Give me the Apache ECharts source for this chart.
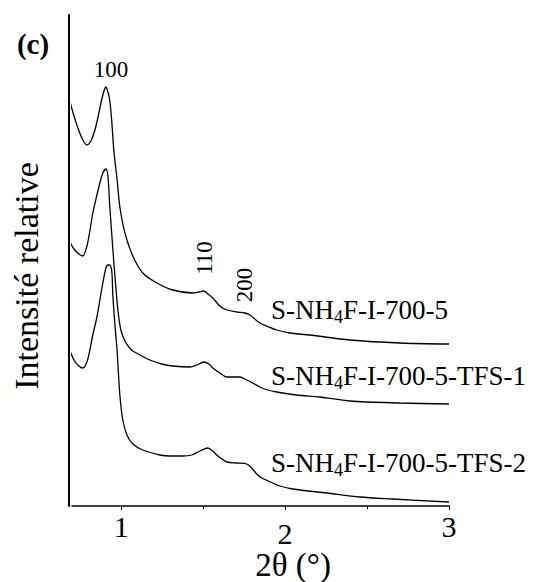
<!DOCTYPE html>
<html>
<head>
<meta charset="utf-8">
<script src="https://cdn.jsdelivr.net/npm/echarts@6/dist/echarts.min.js"></script>
<style>html,body{margin:0;padding:0;background:#fff;}#c{width:537px;height:582px;}</style>
</head>
<body>
<div id="c"></div>
<script>
// 2θ (°) positions and relative intensities
const xA = [0.681,0.705,0.736,0.766,0.791,0.815,0.840,0.864,0.882,0.895,0.907,0.919,0.930,0.943,0.955,0.974,0.992,1.023,1.071,1.132,1.218,1.315,1.437,1.474,1.504,1.529,1.559,1.602,1.645,1.706,1.754,1.785,1.815,1.846,1.888,1.949,2.029,2.150,2.395,2.699,3.0];
const yA = [409,394,378,366,361,365,376,393,407,415,419,414,406,384,356,328,299,273,250,233,223,216,213,214,215,212,208,200,196,194,193,191,187,183,180,176,173,171,166,163,162];

const xB = [0.681,0.712,0.742,0.766,0.791,0.809,0.827,0.852,0.870,0.888,0.907,0.919,0.930,0.943,0.955,0.968,0.980,0.998,1.023,1.047,1.071,1.127,1.175,1.248,1.315,1.419,1.462,1.504,1.535,1.559,1.602,1.645,1.724,1.766,1.803,1.846,1.894,1.949,2.071,2.211,2.395,2.699,3.0];
const yB = [266,257,252,250,260,275,293,311,323,333,337,330,301,271,244,218,196,176,165,159,155,150,146,142,140,139,141,144,142,138,133,129,129,126,123,119,116,114,111,109,105,103,102];

const xC = [0.681,0.712,0.742,0.766,0.791,0.809,0.827,0.852,0.870,0.888,0.907,0.919,0.930,0.943,0.949,0.962,0.974,0.992,1.010,1.035,1.071,1.132,1.236,1.297,1.376,1.431,1.480,1.529,1.559,1.583,1.614,1.645,1.706,1.766,1.797,1.827,1.858,1.925,1.968,2.047,2.254,2.456,2.657,3.0];
const yC = [158,146,140,138,144,156,171,189,206,223,238,241,241,234,211,181,158,111,86,71,62,56,51,50,50,51,55,58,55,51,47,44,43,42,38,32,28,23,20,17,13,9,7,4];

const seriesNames = ['S-NH4F-I-700-5','S-NH4F-I-700-5-TFS-1','S-NH4F-I-700-5-TFS-2'];
const xTicks = [1,2,3];
const xMinorTicks = [1.5,2.5];
const peakLabels = ['100','110','200'];

const FONT = 'Liberation Serif';
const pair = (xs, ys) => xs.map((x,i)=>[x, ys[i]]);
const allData = [pair(xA,yA), pair(xB,yB), pair(xC,yC)];

const chart = echarts.init(document.getElementById('c'), null, {renderer:'svg'});

function labelRich(name){
  const parts = name.split('NH4');
  return '{n|' + parts[0] + 'NH}{s|4}{n|' + parts[1] + '}';
}
const richStyle = {
  n:{fontSize:27, fontFamily:FONT, fill:'#000'},
  s:{fontSize:18, fontFamily:FONT, fill:'#000', padding:[13,0,0,0]}
};
function txt(x, y, text, size, opts){
  opts = opts || {};
  return {type:'text', x:x, y:y, rotation:opts.rot || 0,
    style:{text:text, fontFamily:FONT, fontSize:size, fontWeight:opts.bold?'bold':'normal', fill:'#000', align:'center', verticalAlign:'middle'}};
}

chart.setOption({
  animation:false,
  backgroundColor:'#fff',
  textStyle:{fontFamily:FONT},
  grid:{left:72, right:88, top:15, bottom:76},
  xAxis:[{
    type:'value', min:0.7, max:3,
    axisLine:{show:true, lineStyle:{color:'#000', width:1.5}},
    axisTick:{show:true, customValues:xTicks, length:4, lineStyle:{color:'#000', width:1}},
    axisLabel:{show:true, customValues:xTicks, margin:5, color:'#000', fontFamily:FONT, fontSize:30,
      formatter:function(v){ return v===2 ? '{d|2}' : '{a|'+v+'}'; },
      rich:{a:{fontSize:30,fontFamily:FONT,color:'#000'}, d:{fontSize:30,fontFamily:FONT,color:'#000',padding:[7,0,0,0]}}},
    splitLine:{show:false}
  },{
    type:'value', min:0.7, max:3, position:'bottom',
    axisLine:{show:false},
    axisTick:{show:true, customValues:xMinorTicks, length:3, lineStyle:{color:'#000', width:1}},
    axisLabel:{show:false},
    splitLine:{show:false}
  }],
  yAxis:{
    type:'value', min:0, max:491, offset:3,
    axisLine:{show:true, lineStyle:{color:'#000', width:2}},
    axisTick:{show:false}, axisLabel:{show:false}, splitLine:{show:false}
  },
  series: allData.map((d,i)=>({
    name:seriesNames[i], type:'line', data:d, showSymbol:false, symbol:'none',
    smooth:0.3, clip:false,
    lineStyle:{color:'#000', width:1.3}
  })),
  graphic:[
    txt(26, 276, 'Intensité relative', 34, {rot:Math.PI/2}),
    txt(293, 565, '2θ (°)', 33),
    txt(33, 44, '(c)', 29, {bold:true}),
    txt(111, 69, peakLabels[0], 23),
    txt(204, 258, peakLabels[1], 23, {rot:Math.PI/2}),
    txt(244, 285, peakLabels[2], 23, {rot:Math.PI/2}),
    {type:'text', x:271, y:310, style:{text:labelRich(seriesNames[0]), rich:richStyle, fontFamily:FONT, fontSize:27, verticalAlign:'middle'}},
    {type:'text', x:271, y:376, style:{text:labelRich(seriesNames[1]), rich:richStyle, fontFamily:FONT, fontSize:27, verticalAlign:'middle'}},
    {type:'text', x:271, y:463, style:{text:labelRich(seriesNames[2]), rich:richStyle, fontFamily:FONT, fontSize:27, verticalAlign:'middle'}}
  ]
});
</script>
</body>
</html>
